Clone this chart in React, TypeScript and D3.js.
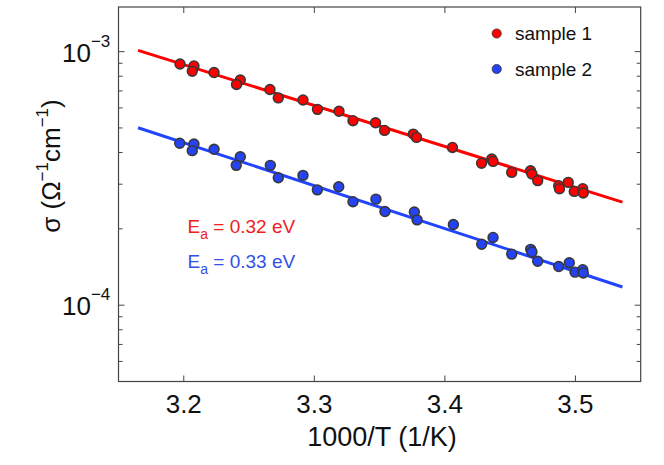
import React from "react";
import * as d3 from "d3";

const xRed = [3.1971, 3.2078, 3.2065, 3.2232, 3.2433, 3.2404, 3.266, 3.2724, 3.2913, 3.3024, 3.3189, 3.3296, 3.3469, 3.3538, 3.3758, 3.3783, 3.4058, 3.4359, 3.4369, 3.4281, 3.4512, 3.4656, 3.4667, 3.4711, 3.4872, 3.4878, 3.4945, 3.4991, 3.5056, 3.506];
const yRed = [8.94, 8.78, 8.37, 8.27, 7.73, 7.42, 7.09, 6.57, 6.45, 5.92, 5.82, 5.34, 5.24, 4.89, 4.73, 4.59, 4.19, 3.77, 3.69, 3.63, 3.34, 3.39, 3.29, 3.1, 2.96, 2.88, 3.05, 2.81, 2.88, 2.77].map((v) => v * 1e-4);

const xBlue = [3.1969, 3.2078, 3.2065, 3.2232, 3.2433, 3.2402, 3.2663, 3.2724, 3.2913, 3.3023, 3.3187, 3.3296, 3.3472, 3.3541, 3.3766, 3.3787, 3.4065, 3.4369, 3.4282, 3.4512, 3.4657, 3.4667, 3.4711, 3.4872, 3.4953, 3.4997, 3.5056, 3.506];
const yBlue = [4.35, 4.32, 4.07, 4.12, 3.85, 3.56, 3.56, 3.18, 3.25, 2.85, 2.93, 2.56, 2.62, 2.34, 2.33, 2.17, 2.08, 1.85, 1.74, 1.59, 1.66, 1.62, 1.49, 1.42, 1.47, 1.35, 1.38, 1.34].map((v) => v * 1e-4);

const fitX = [3.165, 3.536];
const fitRed = [1.012e-3, 2.55e-4];
const fitBlue = [5.01e-4, 1.18e-4];

const xTicks = [3.2, 3.3, 3.4, 3.5];
const yMajor = [1e-3, 1e-4];
const yMajorExp = ["\u22123", "\u22124"];
const yMinor = [6e-5, 7e-5, 8e-5, 9e-5, 2e-4, 3e-4, 4e-4, 5e-4, 6e-4, 7e-4, 8e-4, 9e-4];

const legendNames = ["sample 1", "sample 2"];
const eaValues = ["0.32", "0.33"];

const RED = "#ff0000";
const BLUE = "#2343f5";
const BLUE_LINE = "#2244ff";
const FONT = "'Liberation Sans', Arial, Helvetica, sans-serif";

export default function App() {
  const W = 664, H = 465;
  const L = 118.5, R = 640.7, T = 7, B = 381.5;
  const x = d3.scaleLinear().domain([3.15, 3.55]).range([L, R]);
  const y = d3.scaleLog().domain([5e-5, 1.5e-3]).range([B, T]);
  const line = d3.line<number>().x((_, i) => x(fitX[i])).y((d) => y(d));
  const axisColor = "#444";

  const dots = (xs: number[], ys: number[], fill: string, key: string) =>
    xs.map((xv, i) => (
      <circle key={key + i} cx={x(xv)} cy={y(ys[i])} r={4.9} fill={fill} stroke="#383838" strokeWidth={1.6} />
    ));

  return (
    <svg width={W} height={H} style={{ position: "absolute", left: 0, top: 0, background: "#fff" }} fontFamily={FONT}>
      <rect x={L} y={T} width={R - L} height={B - T} fill="none" stroke={axisColor} strokeWidth={1.2} />
      {xTicks.map((t) => (
        <g key={"xt" + t}>
          <line x1={x(t)} x2={x(t)} y1={B} y2={B - 6} stroke={axisColor} strokeWidth={1} />
          <line x1={x(t)} x2={x(t)} y1={T} y2={T + 6} stroke={axisColor} strokeWidth={1} />
          <text x={x(t)} y={412.5} textAnchor="middle" fontSize={26} fill="#111">{t.toFixed(1)}</text>
        </g>
      ))}
      {yMajor.map((t, i) => (
        <g key={"ym" + t}>
          <line x1={L} x2={L + 6} y1={y(t)} y2={y(t)} stroke={axisColor} strokeWidth={1} />
          <line x1={R} x2={R - 6} y1={y(t)} y2={y(t)} stroke={axisColor} strokeWidth={1} />
          <text x={62} y={y(t) + 10} fontSize={26} fill="#111">
            10<tspan dy={-15} fontSize={17}>{yMajorExp[i]}</tspan>
          </text>
        </g>
      ))}
      {yMinor.map((t) => (
        <g key={"yn" + t}>
          <line x1={L} x2={L + 4} y1={y(t)} y2={y(t)} stroke={axisColor} strokeWidth={1} />
          <line x1={R} x2={R - 4} y1={y(t)} y2={y(t)} stroke={axisColor} strokeWidth={1} />
        </g>
      ))}
      <path d={line(fitRed) || ""} fill="none" stroke={RED} strokeWidth={3} />
      <path d={line(fitBlue) || ""} fill="none" stroke={BLUE_LINE} strokeWidth={3} />
      {dots(xRed, yRed, RED, "r")}
      {dots(xBlue, yBlue, BLUE, "b")}
      {legendNames.map((n, i) => (
        <g key={n}>
          <circle cx={496.7} cy={33.5 + i * 35.5} r={4.6} fill={i === 0 ? RED : BLUE} stroke="#333" strokeWidth={0.8} />
          <text x={515} y={40 + i * 35.5} fontSize={19} fill="#111">{n}</text>
        </g>
      ))}
      {eaValues.map((v, i) => (
        <text key={v} x={187.5} y={233.3 + i * 34.7} fontSize={19} fill={i === 0 ? "#f02020" : "#3050e8"}>
          E<tspan dy={6} fontSize={14}>a</tspan><tspan dy={-6}>{" = " + v + " eV"}</tspan>
        </text>
      ))}
      <text x={382} y={446} textAnchor="middle" fontSize={27} fill="#111">1000/T (1/K)</text>
      <text transform={`translate(60,166) rotate(-90)`} textAnchor="middle" fontSize={26} fill="#111">
        σ (Ω<tspan dy={-12} fontSize={17}>{"\u22121"}</tspan><tspan dy={12}>cm</tspan><tspan dy={-12} fontSize={17}>{"\u22121"}</tspan><tspan dy={12}>)</tspan>
      </text>
    </svg>
  );
}
